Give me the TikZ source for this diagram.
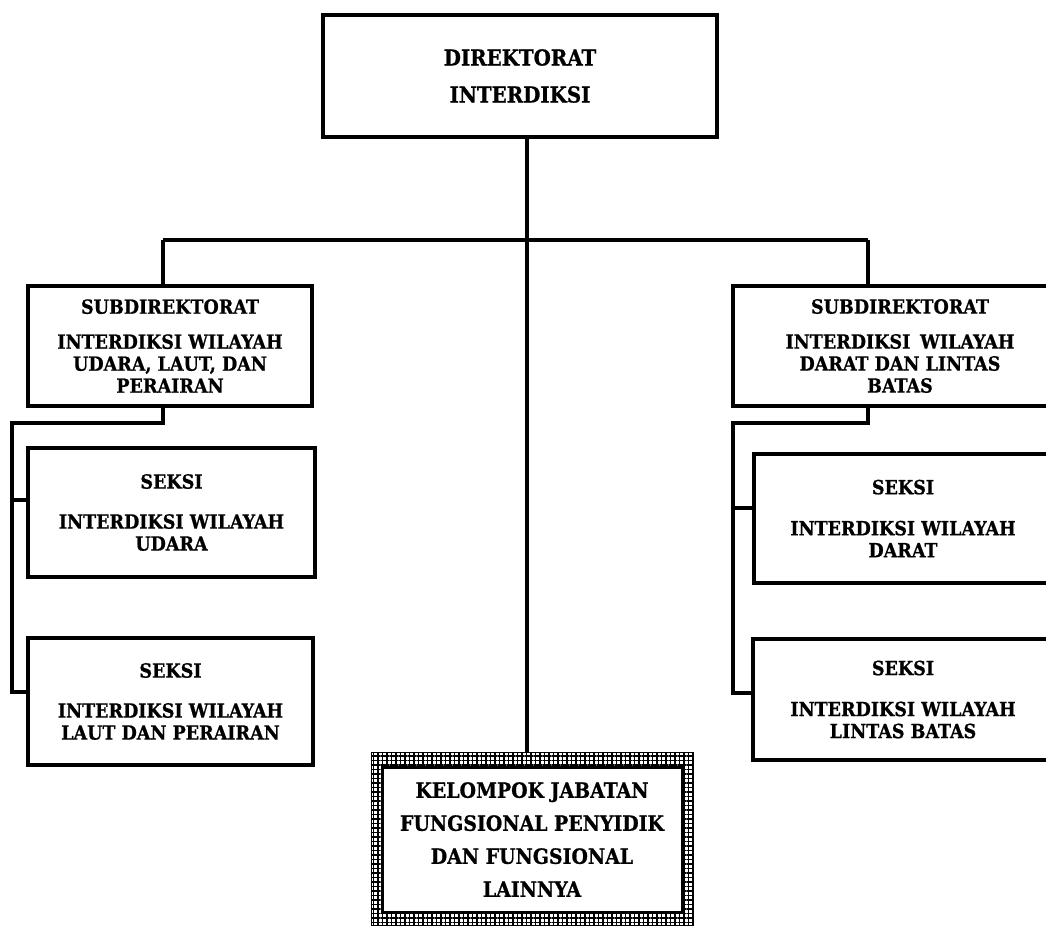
\documentclass[tikz,border=0pt]{standalone}
\usepackage{fontspec}
\setmainfont{DejaVu Serif Condensed}[BoldFeatures={FakeBold=0.8}]
\usetikzlibrary{patterns.meta}
\begin{document}
\begin{tikzpicture}[x=1pt,y=-1pt,
  box/.style={draw, line width=4pt, rectangle, inner sep=0pt, align=center,
    font=\fontsize{19.5}{22}\selectfont\bfseries},
  bigbox/.style={box, font=\fontsize{22}{33}\selectfont\bfseries},
  kelbox/.style={box, font=\fontsize{21}{33}\selectfont\bfseries},
  conn/.style={line width=3.5pt},
  bus/.style={line width=4.5pt}]
\useasboundingbox (0,0) rectangle (1046,927);
\clip (0,0) rectangle (1046,927);

% boxes
\node[bigbox, minimum width=394pt, minimum height=122pt] (top) at (520,76)
  {DIREKTORAT\\[4pt]INTERDIKSI};
\node[box, minimum width=284pt, minimum height=120pt] (subL) at (170,346)
  {SUBDIREKTORAT\\[13pt]INTERDIKSI WILAYAH\\UDARA, LAUT, DAN\\PERAIRAN};
\node[box, minimum width=335pt, minimum height=120pt] (subR) at (900,346)
  {SUBDIREKTORAT\\[13pt]INTERDIKSI\enspace WILAYAH\\DARAT DAN LINTAS\\BATAS};
\node[box, minimum width=287pt, minimum height=129pt] (secL1) at (171.5,512.5)
  {SEKSI\\[18pt]INTERDIKSI WILAYAH\\UDARA};
\node[box, minimum width=285pt, minimum height=127pt] (secL2) at (170.5,701.5)
  {SEKSI\\[18pt]INTERDIKSI WILAYAH\\LAUT DAN PERAIRAN};
\node[box, minimum width=298pt, minimum height=129pt] (secR1) at (903,518.5)
  {SEKSI\\[19pt]INTERDIKSI WILAYAH\\DARAT};
\node[box, minimum width=300pt, minimum height=121pt] (secR2) at (903,699.5)
  {SEKSI\\[19pt]INTERDIKSI WILAYAH\\LINTAS BATAS};

% functional group with hatched frame
\node[inner sep=0pt, minimum width=321pt, minimum height=172pt] (kelframe) at (532.5,839) {};
\fill[pattern={Lines[distance=4.5pt,angle=0,line width=1.6pt]}, even odd rule]
  (kelframe.north west) rectangle (kelframe.south east)
  (382,767) rectangle (682,912);
\fill[pattern={Lines[distance=4.5pt,angle=90,line width=1.6pt]}, even odd rule]
  (kelframe.north west) rectangle (kelframe.south east)
  (382,767) rectangle (682,912);
\draw[line width=1.2pt] (kelframe.north west) rectangle (kelframe.south east);
\node[kelbox, line width=3pt, fill=white, minimum width=300pt, minimum height=145pt] (kel) at (532,839.5)
  {KELOMPOK JABATAN\\FUNGSIONAL PENYIDIK\\DAN FUNGSIONAL\\LAINNYA};

% connectors
\coordinate (busC) at (527,240);
\coordinate (busL) at (163,240);
\coordinate (busR) at (868,240);
\draw[conn] (busC |- top.south) -- (busC |- kelframe.north);
\draw[bus] (busL) -- (busR);
\draw[conn] (busL) -- (busL |- subL.north);
\draw[conn] (busR) -- (busR |- subR.north);

\coordinate (lt) at (12,423);
\coordinate (lb) at (12,692);
\coordinate (lm) at (12,500);
\draw[conn, line join=miter] (busL |- subL.south) -- (busL |- lt) -- (lt) -- (lb) -- (lb -| secL2.west);
\draw[conn] (lm) -- (lm -| secL1.west);

\coordinate (rt) at (733,423);
\coordinate (rb) at (733,693);
\coordinate (rm) at (733,508);
\draw[conn, line join=miter] (busR |- subR.south) -- (busR |- rt) -- (rt) -- (rb) -- (rb -| secR2.west);
\draw[conn] (rm) -- (rm -| secR1.west);
\end{tikzpicture}
\end{document}
